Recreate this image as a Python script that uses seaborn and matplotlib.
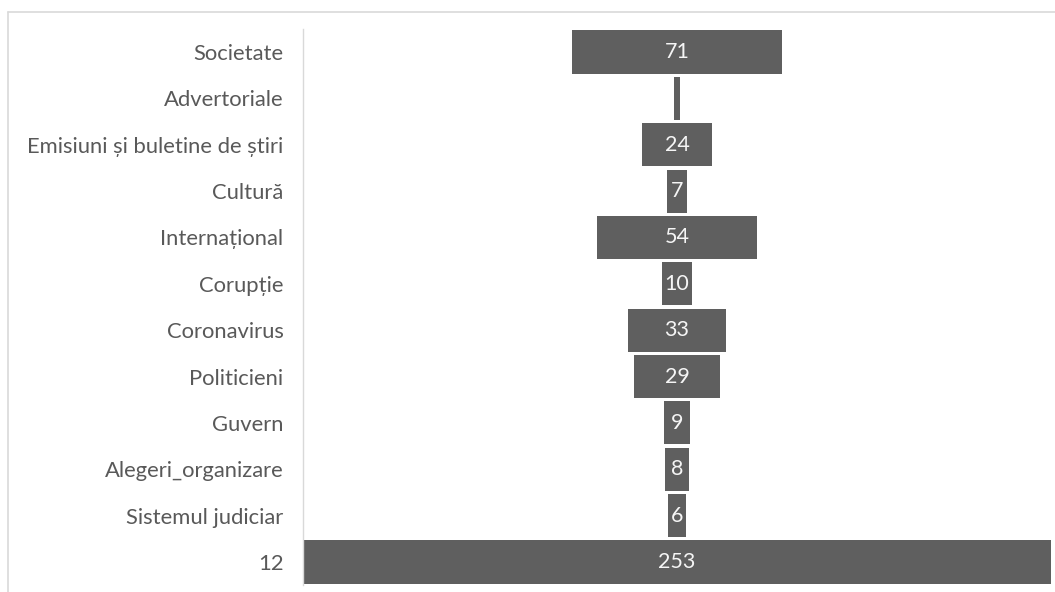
import matplotlib
matplotlib.use("Agg")
import matplotlib.pyplot as plt
import seaborn as sns
import numpy as np
import pandas as pd
from matplotlib.lines import Line2D

categories = ["Societate", "Advertoriale", "Emisiuni și buletine de știri", "Cultură",
              "Internațional", "Corupție", "Coronavirus", "Politicieni", "Guvern",
              "Alegeri_organizare", "Sistemul judiciar", "12"]
values = [71, 2, 24, 7, 54, 10, 33, 29, 9, 8, 6, 253]
shown_labels = ["71", "", "24", "7", "54", "10", "33", "29", "9", "8", "6", "253"]

sns.set_theme(style="white")
plt.rcParams['font.family'] = ['Lato', 'DejaVu Sans']

df = pd.DataFrame({"cat": categories, "val": values})
df["half"] = df["val"] / 2.0
df["neg"] = -df["half"]

fig = plt.figure(figsize=(10.55, 5.92), dpi=100)
ax = fig.add_axes([303/1055, 1 - 585.2/592, (1051-303)/1055, (585.2-28.8)/592])

bar_color = "#5f5f5f"
sns.barplot(data=df, x="half", y="cat", order=categories, color=bar_color,
            width=0.93, linewidth=0, saturation=1, ax=ax, orient="h")
sns.barplot(data=df, x="neg", y="cat", order=categories, color=bar_color,
            width=0.93, linewidth=0, saturation=1, ax=ax, orient="h")

maxv = max(values)
ax.set_xlim(-maxv / 2, maxv / 2)
ax.set_ylim(len(categories) - 0.5, -0.5)

for i, lab in enumerate(shown_labels):
    if lab:
        ax.text(0, i, lab, ha="center", va="center", color="#f5f5f5", fontsize=15.5)

ax.set_xlabel("")
ax.set_ylabel("")
ax.set_xticks([])
ax.tick_params(axis="y", length=0, pad=14, labelsize=15.8, labelcolor="#595959")
for s in ["top", "right", "bottom"]:
    ax.spines[s].set_visible(False)
ax.spines["left"].set_color("#d9d9d9")
ax.spines["left"].set_linewidth(1.0)

# outer chart frame (partial, as in the reference)
fig.add_artist(Line2D([8/1055, 8/1055], [0, 1 - 12/592], color="#d9d9d9", lw=1.2,
                      transform=fig.transFigure))
fig.add_artist(Line2D([8/1055, 1], [1 - 12/592, 1 - 12/592], color="#d9d9d9", lw=1.2,
                      transform=fig.transFigure))

fig.savefig("out.png", dpi=100)
